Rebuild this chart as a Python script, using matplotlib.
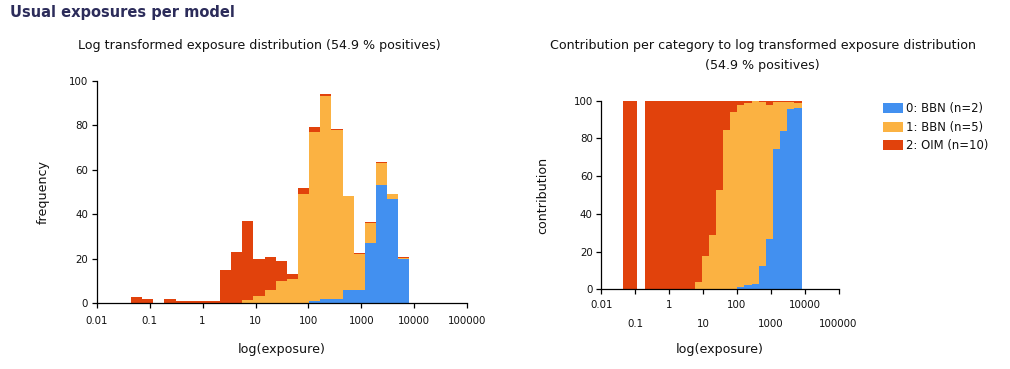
import numpy as np
import matplotlib
matplotlib.use("Agg")
import matplotlib.pyplot as plt
from matplotlib.patches import Patch

# ---------------- data ----------------
series_names = ["0: BBN (n=2)", "1: BBN (n=5)", "2: OIM (n=10)"]
log_min, log_max, n_bins = -1.353, 3.907, 25   # log10 exposure range of the histogram

counts_0_bbn = [0, 0, 0, 0, 0, 0, 0, 0, 0, 0, 0, 0, 0, 0, 0, 0,
                1, 2, 2, 6, 6, 27, 53, 47, 20]
counts_1_bbn = [0, 0, 0, 0, 0, 0, 0, 0, 0, 0,
                1.5, 3.5, 6, 10, 11, 49, 76, 91, 76, 42, 16, 9, 10, 2, 0.5]
counts_2_oim = [3, 2, 0, 2, 1, 1, 1, 1, 15, 23, 35.5, 16.5, 15, 9, 2, 3, 2, 1,
                0.3, 0.3, 0.5, 0.3, 0.3, 0.3, 0.3]

x_tick_values = [0.01, 0.1, 1, 10, 100, 1000, 10000, 100000]
x_tick_labels = ["0.01", "0.1", "1", "10", "100", "1000", "10000", "100000"]
y_tick_values = [0, 20, 40, 60, 80, 100]

title_main = "Usual exposures per model"
title_left = "Log transformed exposure distribution (54.9 % positives)"
title_right_1 = "Contribution per category to log transformed exposure distribution"
title_right_2 = "(54.9 % positives)"

# ---------------- style ----------------
plt.rcParams["font.family"] = ["DejaVu Sans"]
C_BLUE = "#4290F0"
C_ORANGE = "#FBB242"
C_RED = "#E1420C"
TXT = "#111111"
colors = [C_BLUE, C_ORANGE, C_RED]

W, H = 1010, 369
fig = plt.figure(figsize=(W / 100, H / 100), dpi=100)

def fx(px):
    return px / W

def fy(py):
    return 1 - py / H

ax1 = fig.add_axes([fx(96.7), fy(303.3), (467.3 - 96.7) / W, (303.3 - 80.7) / H])
ax2 = fig.add_axes([fx(601.3), fy(289.3), (838.6 - 601.3) / W, (289.3 - 100.7) / H])

edges = 10 ** np.linspace(log_min, log_max, n_bins + 1)
lefts = edges[:-1]
widths = np.diff(edges)

b = np.array(counts_0_bbn, float)
o = np.array(counts_1_bbn, float)
r = np.array(counts_2_oim, float)
stack = [b, o, r]

# left: stacked histogram
bottom = np.zeros(n_bins)
for vals, col in zip(stack, colors):
    ax1.bar(lefts, vals, width=widths, bottom=bottom, align="edge",
            color=col, linewidth=0, antialiased=False)
    bottom = bottom + vals

# right: contribution per bin
total = b + o + r
bottom = np.zeros(n_bins)
for vals, col in zip(stack, colors):
    frac = np.where(total > 0, 100 * vals / np.where(total > 0, total, 1), 0)
    ax2.bar(lefts, frac, width=widths, bottom=bottom, align="edge",
            color=col, linewidth=0, antialiased=False)
    bottom = bottom + frac

FS = 9.1
LFS = 8.4
TFS = 7.4
for ax in (ax1, ax2):
    ax.set_xscale("log")
    ax.set_xlim(0.01, 100000)
    ax.set_ylim(0, 100)
    for s in ("top", "right"):
        ax.spines[s].set_visible(False)
    for s in ("left", "bottom"):
        ax.spines[s].set_linewidth(0.9)
        ax.spines[s].set_color("black")
    ax.set_yticks(y_tick_values)
    ax.set_yticklabels([str(v) for v in y_tick_values])
    ax.tick_params(axis="both", which="both", direction="out", length=3.8,
                   width=0.9, colors="black", labelcolor=TXT, labelsize=TFS)
    ax.tick_params(axis="y", pad=2.3)

ax1.set_xticks(x_tick_values)
ax1.set_xticklabels(x_tick_labels)
ax1.xaxis.set_minor_locator(matplotlib.ticker.NullLocator())
ax1.tick_params(axis="x", pad=5.2)

ax2.set_xticks(x_tick_values[0::2])
ax2.set_xticklabels(x_tick_labels[0::2])
ax2.set_xticks(x_tick_values[1::2], minor=True)
ax2.set_xticklabels(x_tick_labels[1::2], minor=True)
ax2.tick_params(axis="x", which="major", pad=4.0)
ax2.tick_params(axis="x", which="minor", pad=17.5, length=3.8)

# axis labels
ax1.set_xlabel("log(exposure)", fontsize=FS, color=TXT)
ax1.xaxis.set_label_coords(0.5, (303.3 - 349) / (303.3 - 80.7))
ax1.xaxis.label.set_va("center")
ax1.set_ylabel("frequency", fontsize=FS, color=TXT)
ax1.yaxis.set_label_coords((43 - 96.7) / (467.3 - 96.7), 0.5)
ax1.yaxis.label.set_va("center")

ax2.set_xlabel("log(exposure)", fontsize=FS, color=TXT)
ax2.xaxis.set_label_coords(0.5, (289.3 - 349) / (289.3 - 100.7))
ax2.xaxis.label.set_va("center")
ax2.set_ylabel("contribution", fontsize=FS, color=TXT)
ax2.yaxis.set_label_coords((543 - 601.3) / (838.6 - 601.3), 0.5)
ax2.yaxis.label.set_va("center")

# titles
fig.text(fx(10), fy(12), title_main, fontsize=10.5, fontweight="bold",
         color="#2C2C5A", ha="left", va="center")
fig.text(fx(259), fy(45), title_left, fontsize=FS, color=TXT, ha="center", va="center")
fig.text(fx(763), fy(45), title_right_1, fontsize=FS, color=TXT, ha="center", va="center")
fig.text(fx(762), fy(65), title_right_2, fontsize=FS, color=TXT, ha="center", va="center")

# legend
fs_px = LFS * 100 / 72
handles = [Patch(facecolor=c, edgecolor="none") for c in colors]
fig.legend(handles, series_names, loc="upper left",
           bbox_to_anchor=(fx(882.7), fy(102.3)), frameon=False,
           fontsize=LFS, borderpad=0, borderaxespad=0,
           handlelength=20 / fs_px, handleheight=11 / fs_px,
           handletextpad=3.5 / fs_px, labelspacing=0.46, labelcolor=TXT)

fig.savefig("out.png", dpi=100)
